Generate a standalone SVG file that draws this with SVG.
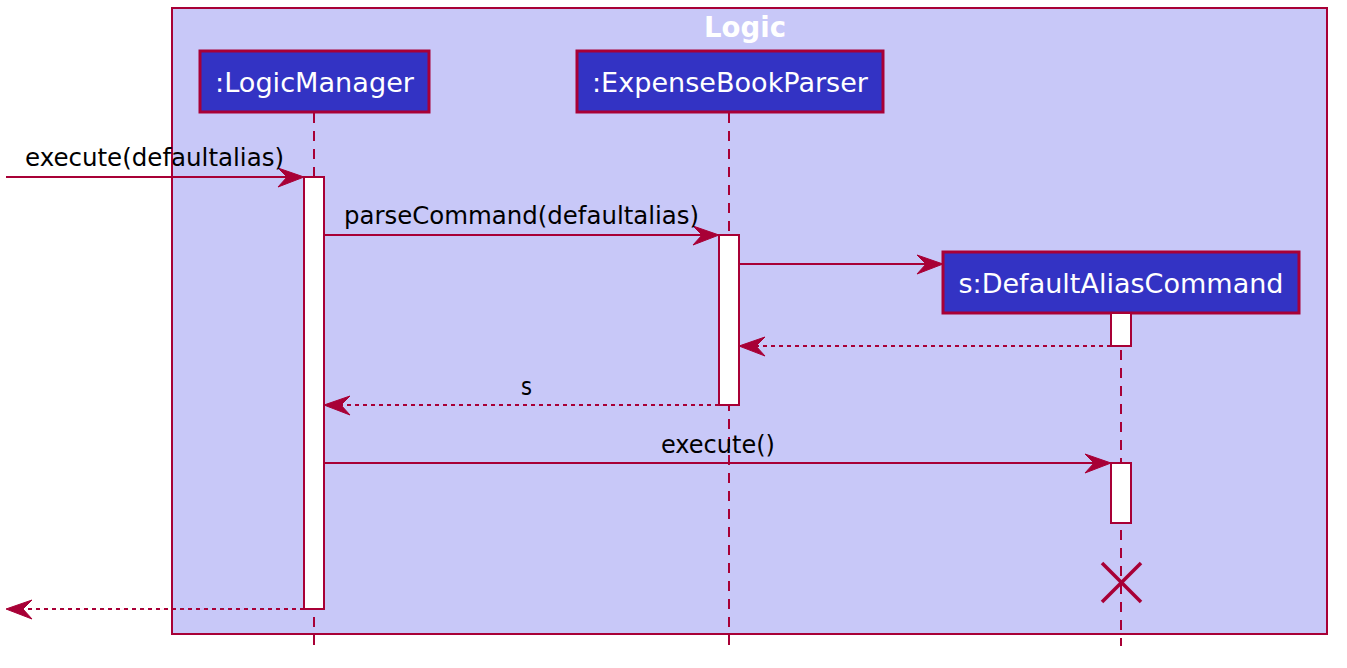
<svg xmlns="http://www.w3.org/2000/svg" width="1347" height="668" viewBox="0 0 1347 668">
<style>
.frame{fill:#C8C8F8;stroke:#A80036;stroke-width:2}
.box{fill:#3333C4;stroke:#A80036;stroke-width:3}
.lt{font-family:"DejaVu Sans",sans-serif;font-size:27px;fill:#FFFFFF}
.mt{font-family:"DejaVu Sans",sans-serif;font-size:24px;fill:#000000}
.life{stroke:#A80036;stroke-width:2;stroke-dasharray:10,8;fill:none}
.act{fill:#FFFFFF;stroke:#A80036;stroke-width:2}
.msg{stroke:#A80036;stroke-width:2;fill:none}
.ret{stroke:#A80036;stroke-width:2;stroke-dasharray:4,4;fill:none}
.ah{fill:#A80036;stroke:#A80036;stroke-width:1}
</style>
<g id="frame">
<rect class="frame" x="172" y="8" width="1155" height="626"/>
<text x="745" y="37" text-anchor="middle" style="font-family:'DejaVu Sans',sans-serif;font-size:28px;font-weight:bold;fill:#FFFFFF" textLength="82" lengthAdjust="spacingAndGlyphs">Logic</text>
</g>
<g id="lifelines">
<line class="life" x1="314" y1="113" x2="314" y2="646"/>
<line class="life" x1="729" y1="113" x2="729" y2="646"/>
<line class="life" x1="1121" y1="314" x2="1121" y2="646"/>
</g>
<g id="node-logicmanager">
<rect class="box" x="200" y="51" width="229" height="61"/>
<text class="lt" x="314.5" y="92" text-anchor="middle" textLength="199" lengthAdjust="spacingAndGlyphs">:LogicManager</text>
</g>
<g id="node-expensebookparser">
<rect class="box" x="577" y="51" width="306" height="61"/>
<text class="lt" x="730" y="92" text-anchor="middle" textLength="276" lengthAdjust="spacingAndGlyphs">:ExpenseBookParser</text>
</g>
<g id="node-defaultaliascommand">
<rect class="box" x="943" y="252" width="356" height="61"/>
<text class="lt" x="1121" y="293" text-anchor="middle" textLength="325" lengthAdjust="spacingAndGlyphs">s:DefaultAliasCommand</text>
</g>
<g id="activations">
<rect class="act" x="304" y="177" width="20" height="432"/>
<rect class="act" x="719" y="235" width="20" height="170"/>
<rect class="act" x="1111" y="313" width="20" height="33"/>
<rect class="act" x="1111" y="463" width="20" height="60"/>
</g>
<g id="connectors">
<line class="msg" x1="6" y1="177" x2="300" y2="177"/>
<polygon class="ah" points="304,177 278,168 287,177 278,187"/>
<text class="mt" x="25" y="166" textLength="259" lengthAdjust="spacingAndGlyphs">execute(defaultalias)</text>

<line class="msg" x1="324" y1="235" x2="715" y2="235"/>
<polygon class="ah" points="719,235 693,226 702,235 693,245"/>
<text class="mt" x="344" y="224" textLength="355" lengthAdjust="spacingAndGlyphs">parseCommand(defaultalias)</text>

<line class="msg" x1="739" y1="264" x2="939" y2="264"/>
<polygon class="ah" points="943,264 917,255 926,264 917,274"/>

<line class="ret" x1="1111" y1="346" x2="743" y2="346"/>
<polygon class="ah" points="739,346 765,337 756,346 765,356"/>

<line class="ret" x1="719" y1="405" x2="328" y2="405"/>
<polygon class="ah" points="324,405 350,396 341,405 350,415"/>
<text class="mt" x="521" y="395" textLength="11" lengthAdjust="spacingAndGlyphs">s</text>

<line class="msg" x1="324" y1="463" x2="1107" y2="463"/>
<polygon class="ah" points="1111,463 1085,454 1094,463 1085,473"/>
<text class="mt" x="661" y="453" textLength="114" lengthAdjust="spacingAndGlyphs">execute()</text>

<line class="ret" x1="304" y1="609" x2="10" y2="609"/>
<polygon class="ah" points="6,609 32,600 23,609 32,619"/>
</g>
<g id="destroy">
<line x1="1102" y1="563" x2="1141" y2="602" stroke="#A80036" stroke-width="3.5"/>
<line x1="1141" y1="563" x2="1102" y2="602" stroke="#A80036" stroke-width="3.5"/>
</g>
</svg>
